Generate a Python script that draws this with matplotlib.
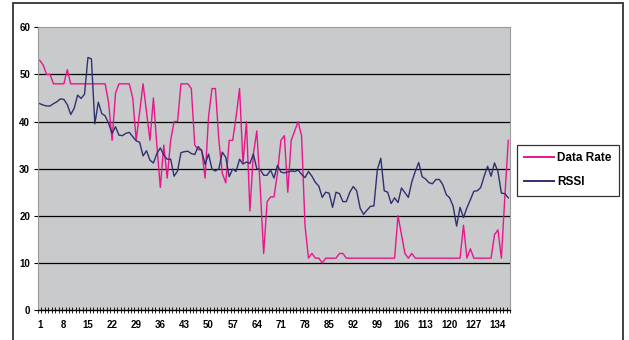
import numpy as np
import matplotlib
matplotlib.use("Agg")
import matplotlib.pyplot as plt
from matplotlib.patches import Rectangle

# samples 1..137
data_rate = [53, 52, 50, 50, 48, 48, 48, 48, 51, 48, 48, 48, 48, 48, 48, 48, 48, 48, 48, 48,
             44, 36, 46,
             48, 48, 48, 48, 45, 36, 42, 48, 42, 36, 45, 35, 26, 35, 28, 36, 40, 40, 48, 48,
             48, 47, 35,
             34, 34, 28, 41, 47, 47, 36, 29, 27, 36, 36, 41, 47, 31, 40, 21, 33, 38, 26, 12,
             23, 24, 24,
             29, 36, 37, 25, 36, 38, 40, 37, 18, 11, 12, 11, 11, 10, 11, 11, 11, 11, 12, 12, 11,
             11, 11, 11, 11, 11, 11, 11, 11, 11, 11, 11, 11, 11, 11,
             20, 16, 12, 11, 12, 11,
             11, 11, 11, 11, 11, 11, 11, 11, 11, 11, 11, 11, 11,
             18, 11, 13, 11, 11, 11, 11, 11, 11, 16, 17, 11, 24, 36]

rssi = [43.8, 43.5, 43.3, 43.3, 43.8, 44.2, 44.8, 44.7, 43.6, 41.5, 42.8, 45.6, 44.9, 45.8,
        53.6, 53.3, 39.5, 44.1, 41.7, 41.2, 39.6, 37.5, 38.9,
        37.1, 37.0, 37.5, 37.7, 36.8, 35.9, 35.6, 32.7, 33.8, 31.8, 31.2, 33.2, 34.4, 32.9,
        32.0, 32.0, 28.4, 29.5, 33.4, 33.6, 33.7, 33.2,
        33.0, 34.7, 33.8, 30.9, 33.1, 29.9, 29.5, 30.0, 33.5, 32.4, 28.3, 29.9, 29.4, 32.0,
        31.0, 31.4, 31.1, 33.1, 30.0, 29.8, 28.6, 28.6, 29.7, 28.0,
        30.7, 29.3, 29.1, 29.3, 29.5, 29.4, 29.7, 28.8, 28.1, 29.4, 28.4, 27.1, 26.3, 23.9,
        25.0, 24.8, 21.8, 25.0, 24.7, 23.0, 23.0,
        25.0, 26.2, 25.3, 21.6, 20.3, 21.2, 22.0, 22.1, 29.8, 32.2, 25.3, 25.0, 22.6, 23.8,
        22.8, 25.9, 24.9, 23.9, 27.2, 29.4, 31.3, 28.3, 27.8, 27.0,
        26.8, 27.7, 27.7, 26.6, 24.5, 23.8, 22.0, 17.8, 21.8, 19.6, 21.7, 23.4, 25.2, 25.3,
        26.0, 28.4, 30.5, 28.4, 31.2, 29.4, 24.8, 24.7, 23.8]

series_names = ["Data Rate", "RSSI"]
y_ticks = [0, 10, 20, 30, 40, 50, 60]

samples = np.arange(1, len(rssi) + 1)
x_labels = samples[::7]

plt.rcParams["font.family"] = ["Liberation Sans", "DejaVu Sans"]
plt.rcParams["font.weight"] = "bold"

fig = plt.figure(figsize=(6.29, 3.40), dpi=100)
W, H = 629.0, 340.0

# chart border
fig.patches.append(Rectangle((12.7 / W, -0.05), (622.5 - 12.7) / W, 1.05 - 3.2 / H,
                             transform=fig.transFigure, fill=False,
                             edgecolor="#333333", linewidth=1.3))

ax = fig.add_axes([38 / W, 1 - 310 / H, (510 - 38) / W, (310 - 27.3) / H])
ax.set_facecolor("#c9cacc")

ax.plot(samples, data_rate, color="#e8168c", lw=1.0, label=series_names[0])
ax.plot(samples, rssi, color="#2f3170", lw=1.0, label=series_names[1])

ax.set_xlim(0.5, len(samples) + 0.5)
ax.set_ylim(0, 60)
ax.set_yticks(y_ticks)
ax.set_xticks(x_labels)
ax.set_xticklabels([str(v) for v in x_labels])
ax.set_xticks(np.arange(0.5, len(samples) + 1, 1.0), minor=True)

for y in y_ticks[1:-1]:
    ax.axhline(y, color="black", lw=0.9, zorder=1)

for side in ["top", "right", "left"]:
    ax.spines[side].set_color("#9a9a9a")
    ax.spines[side].set_linewidth(0.8)
ax.spines["bottom"].set_color("black")
ax.spines["bottom"].set_linewidth(1.0)

ax.tick_params(axis="y", length=3.2, width=0.8, pad=2.5, labelsize=7, color="black")
ax.tick_params(axis="x", which="major", length=0, pad=7, labelsize=7)
ax.tick_params(axis="x", which="minor", direction="inout", length=4.3, width=0.6,
               color="black")

leg = fig.legend(loc="upper left", bbox_to_anchor=(517.3 / W, 1 - 145 / H),
                 fontsize=8.5, frameon=True, fancybox=False, borderpad=0.6,
                 labelspacing=1.05, handlelength=2.5, handletextpad=0.3,
                 borderaxespad=0)
leg.get_frame().set_edgecolor("black")
leg.get_frame().set_linewidth(0.9)
for line in leg.get_lines():
    line.set_linewidth(1.4)

fig.savefig("out.png", dpi=100)
